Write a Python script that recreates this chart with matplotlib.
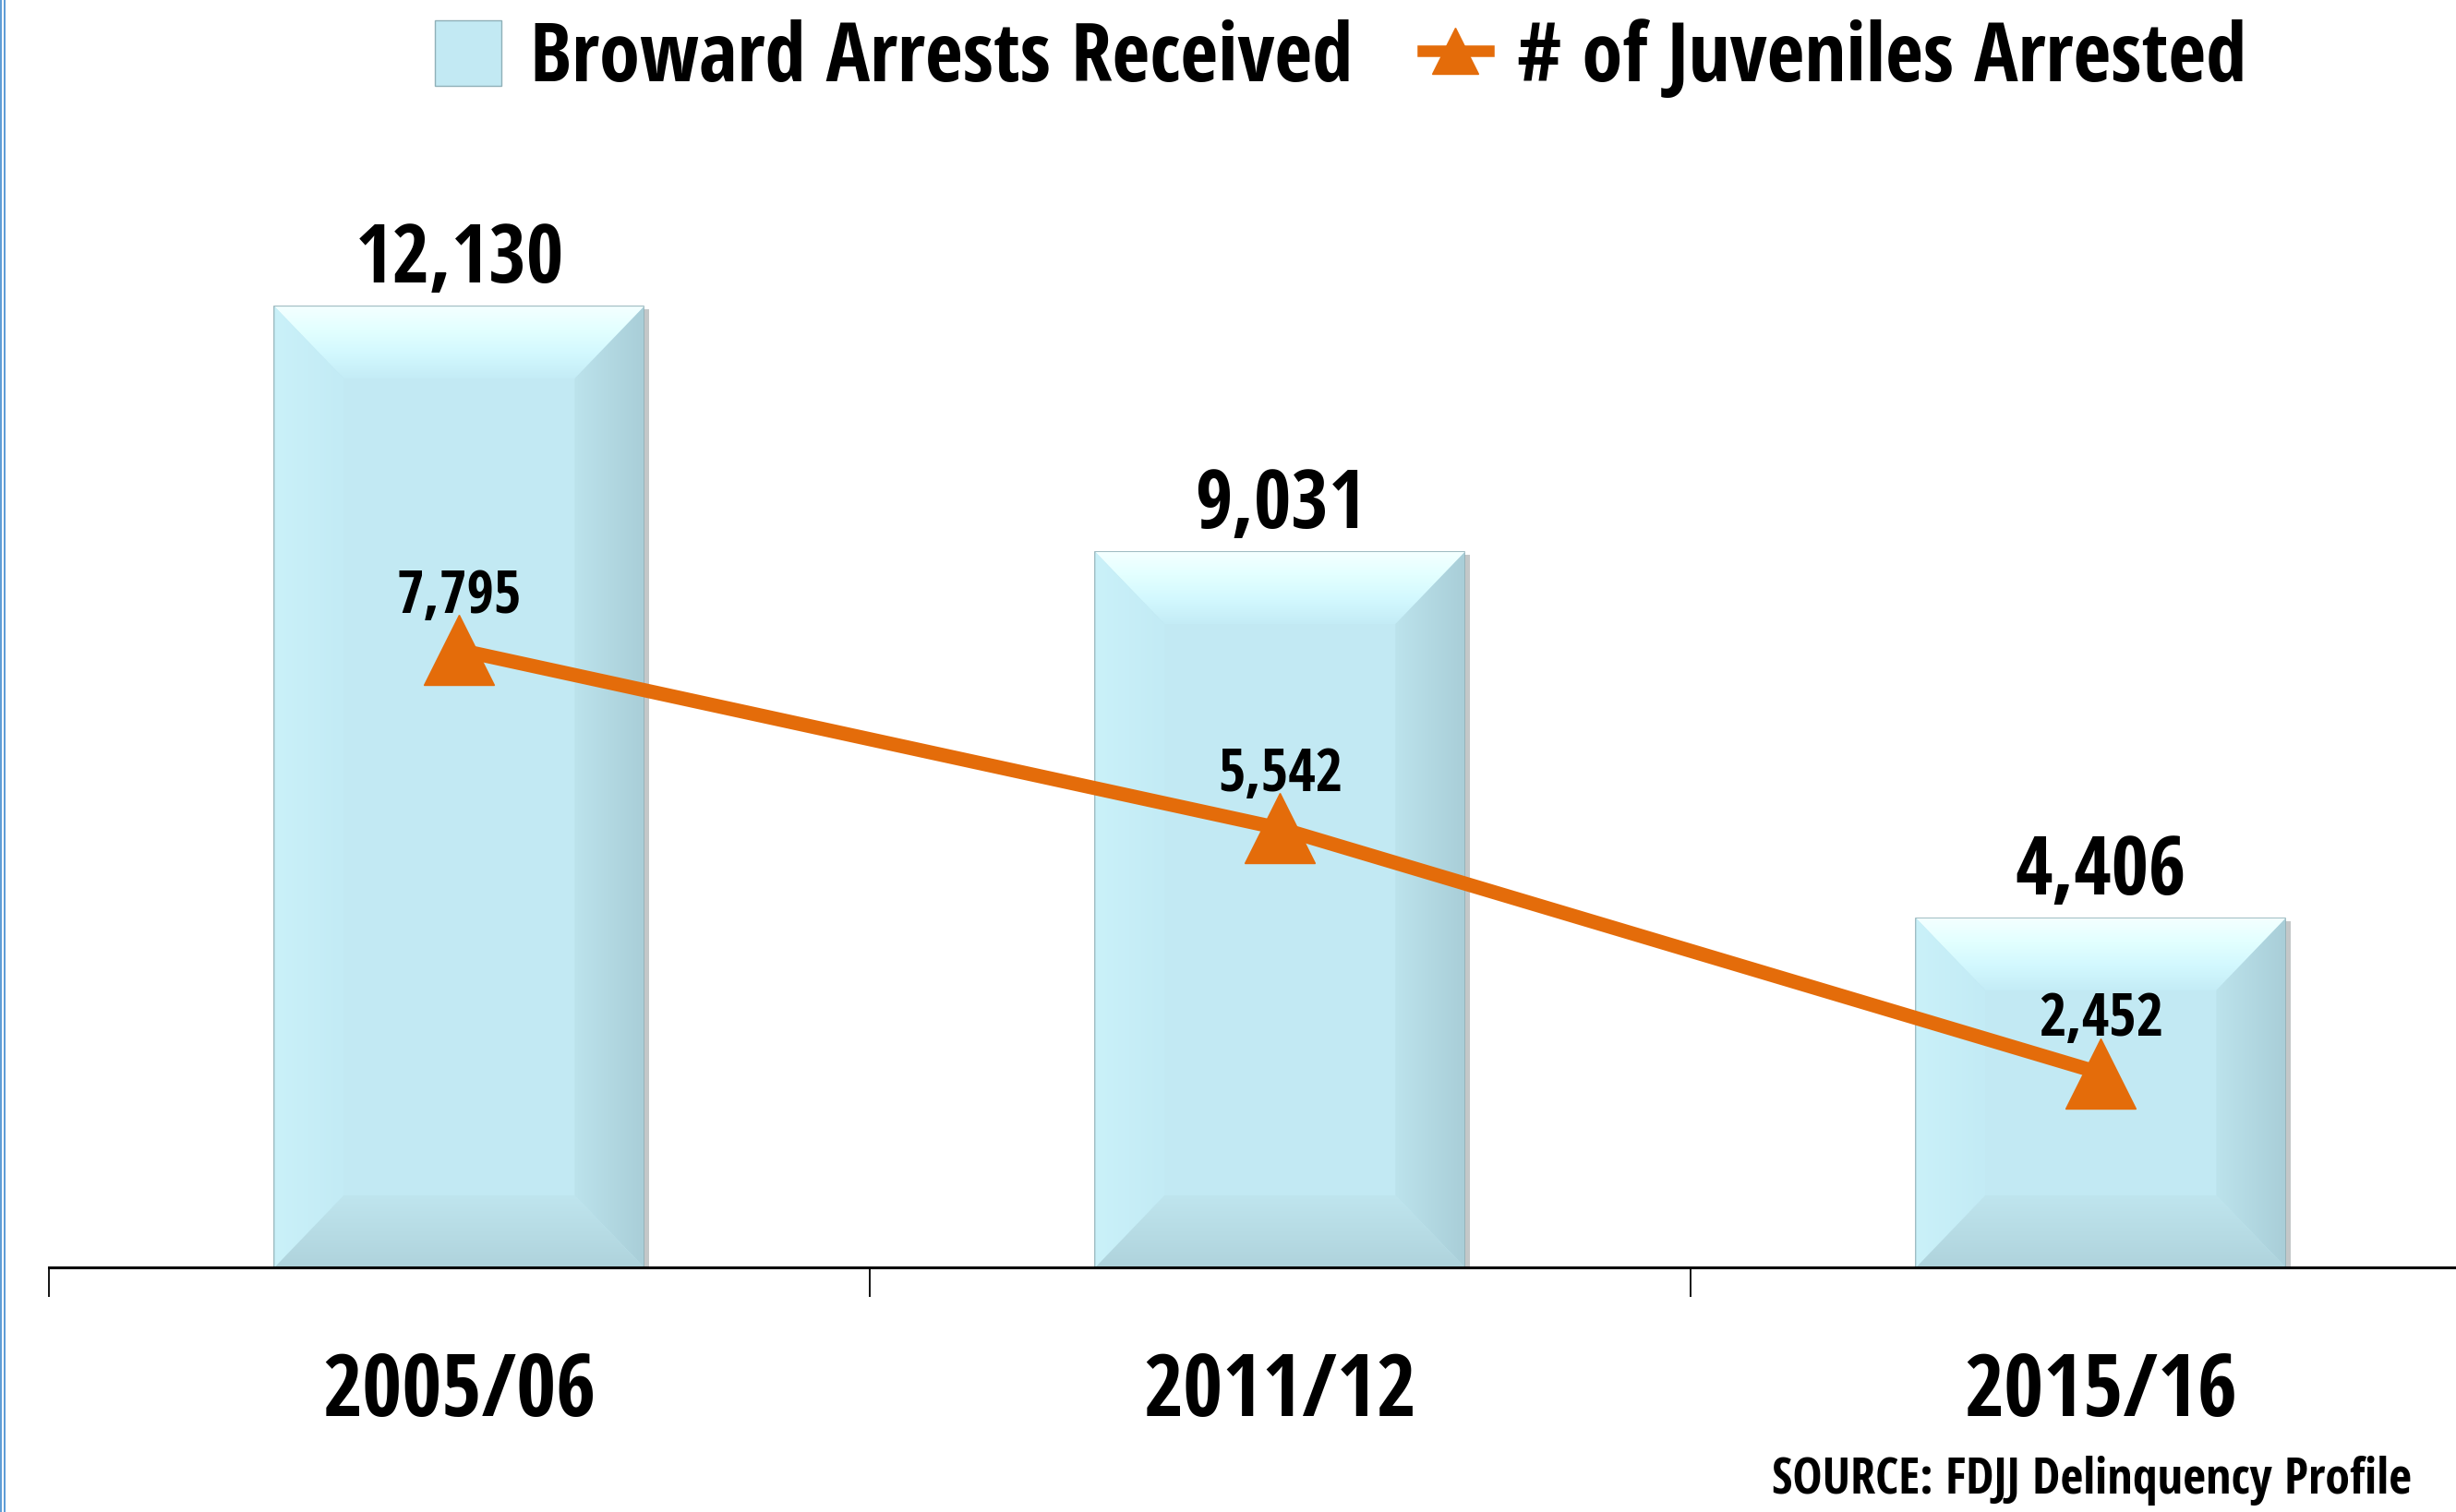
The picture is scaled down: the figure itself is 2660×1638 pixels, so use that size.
import numpy as np
import matplotlib
matplotlib.use('Agg')
import matplotlib.pyplot as plt
import matplotlib.patheffects as pe
from matplotlib.patches import Polygon, Patch
from matplotlib.lines import Line2D
from matplotlib.colors import LinearSegmentedColormap

years = ['2005/06', '2011/12', '2015/16']
arrests_received = [12130, 9031, 4406]
juveniles_arrested = [7795, 5542, 2452]

BAR_FACE = '#C2E9F3'
BAR_EDGE = '#8FB0B8'
ORANGE = '#E46C0A'

plt.rcParams['font.family'] = ['Open Sans Condensed', 'DejaVu Sans']
plt.rcParams['font.weight'] = 'bold'


def fill_gradient(ax, verts, colors, direction):
    # polygon filled with a linear gradient (v: bottom->top, h: left->right)
    poly = Polygon(verts, closed=True, fill=False, lw=0, zorder=2.1)
    ax.add_patch(poly)
    xs = [v[0] for v in verts]
    ys = [v[1] for v in verts]
    cmap = LinearSegmentedColormap.from_list('bevel', colors)
    g = np.linspace(0, 1, 256)
    grid = g[:, None] if direction == 'v' else g[None, :]
    im = ax.imshow(grid, cmap=cmap, extent=(min(xs), max(xs), min(ys), max(ys)),
                   origin='lower', aspect='auto', interpolation='bilinear', zorder=2.1)
    im.set_clip_path(poly)


def bevel(ax, rect, dx, dy):
    x0, y0 = rect.get_x(), rect.get_y()
    x1, y1 = x0 + rect.get_width(), y0 + rect.get_height()
    fill_gradient(ax, [(x0, y1), (x1, y1), (x1 - dx, y1 - dy), (x0 + dx, y1 - dy)],
                  ['#C4ECF6', '#D2F8FE', '#E2FFFF', '#F4FFFF'], 'v')
    fill_gradient(ax, [(x0, y0), (x0, y1), (x0 + dx, y1 - dy), (x0 + dx, y0 + dy)],
                  ['#CAF1F9', '#C3EBF5'], 'h')
    fill_gradient(ax, [(x1, y0), (x1, y1), (x1 - dx, y1 - dy), (x1 - dx, y0 + dy)],
                  ['#BCE3EC', '#A9CED8'], 'h')
    fill_gradient(ax, [(x0, y0), (x1, y0), (x1 - dx, y0 + dy), (x0 + dx, y0 + dy)],
                  ['#AFD3DC', '#BFE5EE'], 'v')


fig = plt.figure(figsize=(26.6, 16.38), dpi=100)
ax = fig.add_axes([0.0199, 0.1618, 1.0026, 0.7753])
ax.set_xlim(-0.5, 2.5)
ax.set_ylim(0, 14800)

x = np.arange(len(years))
bars = ax.bar(x, arrests_received, width=0.45, color=BAR_FACE, edgecolor=BAR_EDGE,
              linewidth=1.2, zorder=2,
              path_effects=[pe.SimplePatchShadow(offset=(4, -2), alpha=0.3), pe.Normal()])

# bevel width is fixed in pixels, convert to data units
inv = ax.transData.inverted()
p0, p1 = inv.transform([(0, 0), (75, 78)])
dx, dy = p1 - p0
for rect in bars:
    bevel(ax, rect, dx, dy)

ax.plot(x, juveniles_arrested, color=ORANGE, lw=11, marker='^', ms=55, zorder=3)

for xi, v in zip(x, arrests_received):
    ax.annotate(f'{v:,}', (xi, v), xytext=(0, 19), textcoords='offset points',
                ha='center', va='baseline', fontsize=63, zorder=4)
for xi, v in zip(x, juveniles_arrested):
    ax.annotate(f'{v:,}', (xi, v), xytext=(0, 29), textcoords='offset points',
                ha='center', va='baseline', fontsize=46, zorder=4)

ax.set_xlim(-0.5, 2.5)
ax.set_ylim(0, 14800)
ax.set_xticks(x, years)
ax.tick_params(axis='x', which='major', length=0, pad=65, labelsize=67)
ax.set_xticks([-0.5, 0.5, 1.5, 2.5], minor=True)
ax.tick_params(axis='x', which='minor', length=23, width=1.3, direction='out')
ax.set_yticks([])
for s in ['left', 'right', 'top']:
    ax.spines[s].set_visible(False)
ax.spines['bottom'].set_linewidth(2.2)

handles = [Patch(facecolor=BAR_FACE, edgecolor=BAR_EDGE),
           Line2D([], [], color=ORANGE, lw=9, marker='^', ms=36)]
fig.legend(handles, ['Broward Arrests Received', '# of Juveniles Arrested'],
           loc='upper center', bbox_to_anchor=(0.546, 1 - 12 / 1638), ncol=2, frameon=False,
           fontsize=64, handlelength=0.8, handleheight=0.85, handletextpad=0.35,
           columnspacing=0.85, borderpad=0.1, borderaxespad=0)

fig.text(2612 / 2660, 1 - 1618 / 1638, 'SOURCE: FDJJ Delinquency Profile',
         ha='right', va='baseline', fontsize=39)

# double blue rule down the left edge
for xl in [1.2 / 2660, 5.2 / 2660]:
    fig.add_artist(Line2D([xl, xl], [0, 1], transform=fig.transFigure,
                          color='#5B9BD5', lw=1.4))

fig.savefig('out.png', dpi=100)
